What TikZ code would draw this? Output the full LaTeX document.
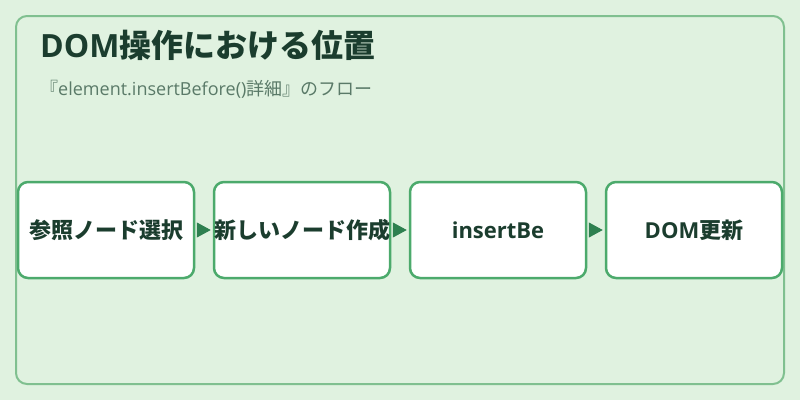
\documentclass[tikz,border=0pt]{standalone}
\usepackage{fontspec}
\setmainfont{Open Sans}
\newfontfamily\jpfont{Noto Sans CJK JP}
\newcommand{\jp}[1]{{\jpfont #1}}
\usetikzlibrary{positioning,arrows.meta}

\definecolor{bgcol}{HTML}{E0F2E0}
\definecolor{framecol}{HTML}{80C090}
\definecolor{boxcol}{HTML}{4CAA6C}
\definecolor{arrowcol}{HTML}{2E8050}
\definecolor{titlecol}{HTML}{1B3D2E}
\definecolor{subcol}{HTML}{5A7A68}

\begin{document}
\begin{tikzpicture}[x=1pt,y=-1pt,
   stepbox/.style={draw=boxcol,line width=2.5pt,fill=white,rounded corners=10pt,
     minimum width=176pt,minimum height=96pt,inner sep=0pt,
     font=\fontsize{22}{26}\selectfont\bfseries,text=titlecol},
   flow/.style={-{Triangle[length=14pt,width=15pt]},arrowcol,line width=1pt,
     shorten <=2pt,shorten >=2pt}]
\useasboundingbox (0,0) rectangle (800,400);
\fill[bgcol] (0,0) rectangle (800,400);
\draw[framecol,line width=2pt,rounded corners=11pt] (16,16) rectangle (784,384);
\node[anchor=base west,inner sep=0pt,text=titlecol,font=\fontsize{32}{38}\selectfont\bfseries]
   (title) at (40,57) {DOM\jp{操作における位置}};
\node[anchor=base west,inner sep=0pt,text=subcol,font=\fontsize{18}{22}\selectfont]
   (subtitle) at (40,95) {\jp{『}element.insertBefore()\jp{詳細』のフロー}};
% flow boxes
\node[stepbox] (select) at (106,230) {\jp{参照ノード選択}};
\node[stepbox,right=17.5pt of select] (create) {\jp{新しいノード作成}};
\node[stepbox,right=17.5pt of create] (insert) {insertBe};
\node[stepbox,right=17.5pt of insert] (update) {DOM\jp{更新}};
\draw[flow] (select) -- (create);
\draw[flow] (create) -- (insert);
\draw[flow] (insert) -- (update);
\end{tikzpicture}
\end{document}
